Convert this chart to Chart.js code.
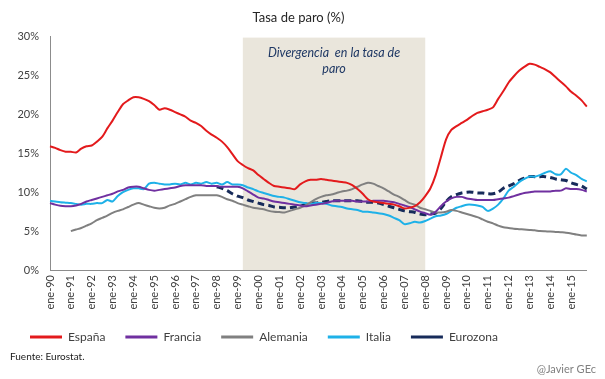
<!DOCTYPE html>
<html>
<head>
<meta charset="utf-8">
<script src="https://cdn.jsdelivr.net/npm/chart.js@4.4.0/dist/chart.umd.min.js"></script>
<style>
  html, body { margin: 0; padding: 0; background: #fff; }
  #wrap { width: 605px; height: 379px; position: relative; }
</style>
</head>
<body>
<div id="wrap"><canvas id="chart"></canvas></div>
<script>
// quarterly categories, ene-90 .. oct-15
const months = ["ene", "abr", "jul", "oct"];
const labels = [];
for (let y = 1990; y <= 2015; y++) {
  months.forEach(m => labels.push(m + "-" + String(y).slice(2)));
}

const espana = [15.9,15.7,15.4,15.2, 15.2,15.1,15.6,15.9, 16.0,16.5,17.1,18.2, 19.2,20.3,21.3,21.8,
  22.2,22.2,22.0,21.7, 21.2,20.6,20.8,20.6, 20.3,20.0,19.7,19.2, 18.9,18.5,17.9,17.4,
  17.0,16.5,15.8,14.9, 14.0,13.5,13.1,12.8, 12.2,11.7,11.2,10.8, 10.7,
  10.6,10.5,10.4,11.0, 11.4,11.6,11.6,11.7, 11.6,11.5,11.4,11.3, 11.2,10.9,10.4,9.8,
  9.1,8.8,8.7,8.6, 8.5,8.4,8.2,7.9, 8.0,8.2,8.7,9.5, 10.5,12.2,14.5,16.8,
  18.0,18.5,18.9,19.3, 19.8,20.2,20.4,20.6, 20.9,22.0,23.0,24.1, 24.9,25.6,26.1,26.5,
  26.4,26.1,25.8,25.4,24.8, 24.2,23.6,22.9,22.4, 21.8,21.0];

const francia = [8.6,8.4,8.25,8.2, 8.2,8.3,8.5,8.8, 9.0,9.2,9.4,9.6, 9.8,10.1,10.3,10.6,
  10.7,10.7,10.5,10.3, 10.2,10.3,10.4,10.5, 10.6,10.8,10.9,10.9, 10.9,10.9,10.8,10.8,
  10.8,10.7,10.7,10.7, 10.7,10.5,10.1,9.7, 9.3,9.2,9.0,8.8, 8.7,
  8.6,8.5,8.4,8.3, 8.2,8.3,8.4,8.5, 8.6,8.8,8.9,8.9, 8.9,8.9,8.8,8.8,
  8.8,8.9,8.9,8.9, 8.8,8.7,8.5,8.3, 8.1,7.8,7.5,7.3, 7.1,7.5,8.2,8.8,
  9.2,9.4,9.4,9.2, 9.1,9.0,9.0,9.0, 9.0,9.1,9.2,9.3, 9.5,9.7,9.9,10.0,
  10.1,10.1,10.1,10.1,10.2, 10.2,10.5,10.4,10.4, 10.3,10.1];

const alemania = [null,null,null,null, 5.0,5.2,5.4,5.7, 6.0,6.4,6.7,7.0, 7.35,7.6,7.8,8.1,
  8.4,8.6,8.4,8.2, 8.0,7.9,8.0,8.3, 8.5,8.8,9.1,9.4, 9.6,9.6,9.6,9.6,
  9.6,9.4,9.1,8.9, 8.6,8.4,8.2,8.0, 7.9,7.8,7.6,7.5, 7.45,
  7.4,7.6,7.8,8.0, 8.3,8.7,9.1,9.4, 9.6,9.7,9.9,10.1, 10.2,10.4,10.7,11.0,
  11.2,11.1,10.8,10.5, 10.1,9.7,9.4,9.0, 8.6,8.4,8.0,7.8, 7.6,7.4,7.4,7.5,
  7.7,7.6,7.4,7.2, 7.0,6.8,6.5,6.2, 6.0,5.7,5.5,5.4, 5.3,5.25,5.2,5.15,
  5.1,5.0,4.97,4.95,4.9, 4.85,4.8,4.7,4.55, 4.45,4.45];

const italia = [8.9,8.8,8.7,8.65, 8.6,8.5,8.4,8.5, 8.5,8.6,8.6,9.0, 8.8,9.5,10.0,10.3,
  10.5,10.5,10.4,11.1, 11.2,11.1,11.0,11.0, 11.1,11.0,11.2,11.0, 11.2,11.1,11.3,11.1,
  11.2,11.0,11.3,11.0, 11.0,10.9,10.6,10.4, 10.1,9.9,9.7,9.5, 9.4,
  9.3,9.1,8.9,8.7, 8.6,8.5,8.6,8.6, 8.5,8.3,8.2,8.1, 7.9,7.8,7.7,7.5,
  7.5,7.4,7.3,7.2, 7.0,6.7,6.4,5.9, 6.0,6.2,6.1,6.3, 6.6,6.9,7.0,7.2,
  7.6,8.0,8.2,8.4, 8.4,8.3,8.1,7.6, 7.9,8.4,9.2,10.2, 10.7,11.3,11.7,12.0,
  12.0,12.2,12.5,12.7,12.3, 12.3,13.0,12.5,12.2, 11.7,11.4];

const eurozona = [null,null,null,null, null,null,null,null, null,null,null,null, null,null,null,null,
  null,null,null,null, null,null,null,null, null,null,null,null, null,null,null,null,
  10.7,10.5,10.2,9.8, 9.5,9.3,9.0,8.8, 8.6,8.4,8.3,8.1, 8.05,
  8.0,8.0,8.1,8.2, 8.4,8.6,8.6,8.7, 8.8,8.9,8.9,8.9, 8.9,8.9,8.9,8.8,
  8.7,8.7,8.6,8.4, 8.2,8.0,7.8,7.6, 7.5,7.4,7.2,7.1, 7.2,7.3,7.9,8.8,
  9.4,9.7,9.9,10.0, 10.0,9.9,9.9,9.8, 9.8,10.0,10.5,10.8, 11.1,11.5,11.8,12.0,
  12.0,12.0,12.0,11.9,11.7, 11.6,11.5,11.2,11.0, 10.8,10.4];

const yTicks = [0, 5, 10, 15, 20, 25, 30];
const shadeFrom = "abr-99";
const shadeTo = "ene-08";

Chart.defaults.font.family = "Lato, 'Open Sans', sans-serif";
Chart.defaults.color = "#404040";

// zona sombreada + texto
const shadePlugin = {
  id: "shade",
  beforeDatasetsDraw(chart) {
    const { ctx, chartArea, scales } = chart;
    const x1 = scales.x.getPixelForValue(labels.indexOf(shadeFrom));
    const x2 = scales.x.getPixelForValue(labels.indexOf(shadeTo));
    ctx.save();
    ctx.fillStyle = "#EAE6DC";
    ctx.fillRect(x1, chartArea.top + 1, x2 - x1, chartArea.bottom - chartArea.top - 1);
    ctx.fillStyle = "#1F3864";
    ctx.font = "italic 12.5px Lato, sans-serif";
    ctx.textAlign = "center";
    ctx.textBaseline = "middle";
    const cx = (x1 + x2) / 2;
    ctx.fillText("Divergencia  en la tasa de", cx, 53);
    ctx.fillText("paro", cx, 69);
    ctx.restore();
  }
};

const footerPlugin = {
  id: "footer",
  afterDraw(chart) {
    const ctx = chart.ctx;
    ctx.save();
    ctx.textBaseline = "middle";
    ctx.fillStyle = "#1a1a1a";
    ctx.font = "10px Lato, sans-serif";
    ctx.textAlign = "left";
    ctx.fillText("Fuente: Eurostat.", 10, 357);
    ctx.fillStyle = "#808080";
    ctx.font = "11px Lato, sans-serif";
    ctx.textAlign = "right";
    ctx.fillText("@Javier GEc", 596, 369);
    ctx.restore();
  }
};

new Chart(document.getElementById("chart"), {
  type: "line",
  data: {
    labels: labels,
    datasets: [
      { label: "España", data: espana, borderColor: "#E31A1C", backgroundColor: "#E31A1C", borderWidth: 2 },
      { label: "Francia", data: francia, borderColor: "#7030A0", backgroundColor: "#7030A0", borderWidth: 2 },
      { label: "Alemania", data: alemania, borderColor: "#808080", backgroundColor: "#808080", borderWidth: 2 },
      { label: "Italia", data: italia, borderColor: "#1EB1E8", backgroundColor: "#1EB1E8", borderWidth: 2 },
      { label: "Eurozona", data: eurozona, borderColor: "#172B5A", backgroundColor: "#172B5A", borderWidth: 3, borderDash: [7, 4] }
    ]
  },
  options: {
    responsive: true,
    maintainAspectRatio: false,
    animation: false,
    elements: {
      point: { radius: 0 },
      line: { tension: 0.25 }
    },
    layout: { padding: { left: 10, right: 18, top: 0, bottom: 26 } },
    plugins: {
      title: {
        display: true,
        text: "Tasa de paro (%)",
        color: "#262626",
        font: { size: 13, weight: "normal" },
        padding: { top: 10, bottom: 11 }
      },
      legend: {
        position: "bottom",
        align: "start",
        labels: {
          usePointStyle: true,
          pointStyle: "line",
          pointStyleWidth: 32,
          padding: 20,
          color: "#404040",
          font: { size: 12 },
          generateLabels(chart) {
            const items = Chart.defaults.plugins.legend.labels.generateLabels(chart);
            items.forEach(it => { it.lineWidth = 3; it.pointStyle = "line"; });
            return items;
          }
        }
      },
      tooltip: { enabled: false }
    },
    scales: {
      x: {
        grid: { display: false, drawTicks: false },
        border: { display: true, color: "#8C8C8C" },
        ticks: {
          autoSkip: false,
          maxRotation: 90,
          minRotation: 90,
          padding: 5,
          font: { size: 11 },
          callback: function (v, i) {
            const l = labels[i];
            return l.startsWith("ene") ? l : "";
          }
        },
        afterFit(s) { s.height = 41; }
      },
      y: {
        min: 0,
        max: 30,
        grid: { display: false, drawTicks: false },
        border: { display: true, color: "#8C8C8C" },
        afterBuildTicks(s) { s.ticks = yTicks.map(v => ({ value: v })); },
        ticks: {
          padding: 11,
          font: { size: 11 },
          callback: v => v + "%"
        },
        afterFit(s) { s.width = 40; }
      }
    }
  },
  plugins: [shadePlugin, footerPlugin]
});
</script>
</body>
</html>
